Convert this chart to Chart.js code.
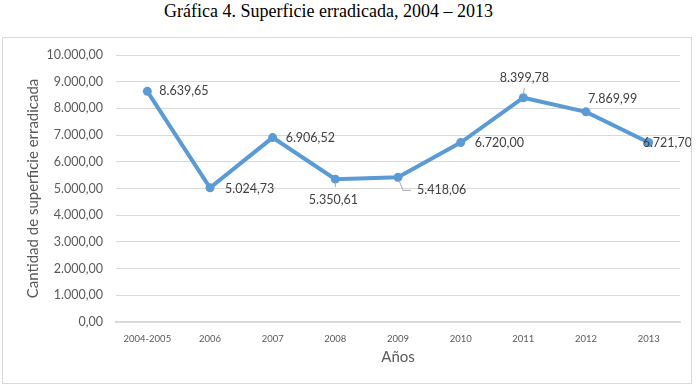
<!DOCTYPE html>
<html>
<head>
<meta charset="utf-8">
<script src="https://cdn.jsdelivr.net/npm/chart.js@4"></script>
<style>
  html, body { margin: 0; padding: 0; background: #fff; }
  body { width: 696px; height: 385px; position: relative; overflow: hidden; }
  #titulo {
    position: absolute; left: 0; top: 1px; width: 657px; text-align: center;
    font-family: "Liberation Serif", serif; font-size: 18px; color: #000;
  }
  #caja {
    position: absolute; left: 2px; top: 37px; width: 688px; height: 345px;
    border: 1px solid #d9d9d9;
  }
</style>
</head>
<body>
<div id="titulo">Gráfica 4. Superficie erradicada, 2004 – 2013</div>
<div id="caja"><canvas id="grafica" width="688" height="345"></canvas></div>
<script>
const anos = ["2004-2005", "2006", "2007", "2008", "2009", "2010", "2011", "2012", "2013"];
const superficie = [8639.65, 5024.73, 6906.52, 5350.61, 5418.06, 6720.0, 8399.78, 7869.99, 6721.7];
const tituloX = "Años";
const tituloY = "Cantidad de superficie erradicada";

// posicion de cada etiqueta respecto al punto
const posEtiquetas = [
  { dx: 12, dy: 0, align: "left" },
  { dx: 15, dy: 1, align: "left" },
  { dx: 13, dy: 0, align: "left" },
  { dx: -2, dy: 21, align: "center", guia: [[0, 3], [0, 8]] },
  { dx: 19, dy: 13, align: "left", guia: [[1, 3], [5, 13], [13, 13]] },
  { dx: 14, dy: 0, align: "left" },
  { dx: 1, dy: -20, align: "center", guia: [[1, -10], [0, -3]] },
  { dx: 2, dy: -13, align: "left" },
  { dx: -6, dy: 0, align: "left" },
];

const FUENTE = "Lato, 'Noto Sans', sans-serif";

function formato(v) {
  const partes = v.toFixed(2).split(".");
  const entero = partes[0].replace(/\B(?=(\d{3})+(?!\d))/g, ".");
  return entero + "," + partes[1];
}

const etiquetasPlugin = {
  id: "etiquetas",
  afterDraw(chart) {
    const c = chart.ctx;
    const meta = chart.getDatasetMeta(0);
    c.save();
    c.font = "12.5px " + FUENTE;
    c.textBaseline = "middle";
    meta.data.forEach((p, i) => {
      const pos = posEtiquetas[i];
      if (pos.guia) {
        c.strokeStyle = "#a6a6a6";
        c.lineWidth = 1;
        c.beginPath();
        pos.guia.forEach(([gx, gy], k) => {
          if (k === 0) c.moveTo(p.x + gx, p.y + gy);
          else c.lineTo(p.x + gx, p.y + gy);
        });
        c.stroke();
      }
      c.fillStyle = "#404040";
      c.textAlign = pos.align;
      c.fillText(formato(superficie[i]), p.x + pos.dx, p.y + pos.dy);
    });
    c.restore();
  },
};

new Chart(document.getElementById("grafica"), {
  type: "line",
  data: {
    labels: anos,
    datasets: [
      {
        data: superficie,
        borderColor: "#5b9bd5",
        backgroundColor: "#5b9bd5",
        borderWidth: 4,
        pointRadius: 4.5,
        pointBorderWidth: 0,
        pointHoverRadius: 4.5,
        tension: 0,
      },
    ],
  },
  options: {
    responsive: false,
    animation: false,
    layout: { padding: { top: 17, right: 11, left: 0, bottom: 0 } },
    plugins: { legend: { display: false }, tooltip: { enabled: false } },
    scales: {
      x: {
        offset: true,
        grid: { display: false },
        border: { color: "#d9d9d9", width: 2 },
        ticks: { color: "#595959", font: { family: FUENTE, size: 9.5 }, padding: 3, maxRotation: 0, autoSkip: false },
        title: { display: true, text: tituloX, color: "#595959", font: { family: FUENTE, size: 15 }, padding: { top: 0, bottom: 17 } },
        afterFit(scale) { scale.height = 61; },
      },
      y: {
        min: 0,
        max: 10000,
        grid: { color: "#d9d9d9", drawTicks: false },
        border: { display: false },
        ticks: {
          stepSize: 1000,
          color: "#595959",
          font: { family: FUENTE, size: 12.5 },
          padding: 13,
          callback: (v) => formato(v),
        },
        title: { display: true, text: tituloY, color: "#595959", font: { family: FUENTE, size: 15 }, padding: { top: 21, bottom: 0 } },
        afterFit(scale) {
          scale.width = 113;
          scale.paddingTop = 0;
          scale.paddingBottom = 0;
        },
      },
    },
  },
  plugins: [etiquetasPlugin],
});
</script>
</body>
</html>
